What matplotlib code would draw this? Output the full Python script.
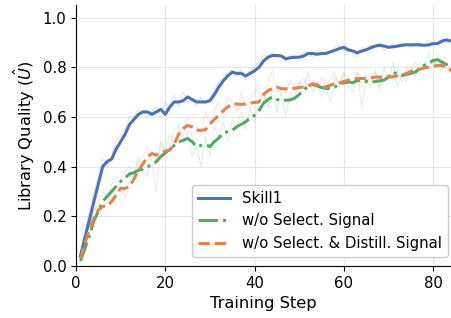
import matplotlib
matplotlib.use('Agg')
import matplotlib.pyplot as plt
import numpy as np

steps = np.arange(1, 85)

# smoothed curves
skill1 = [0.04, 0.113, 0.185, 0.258, 0.33, 0.40, 0.42, 0.43, 0.47, 0.50,
          0.53, 0.57, 0.59, 0.61, 0.62, 0.62, 0.61, 0.62, 0.63, 0.61,
          0.64, 0.66, 0.66, 0.665, 0.68, 0.67, 0.66, 0.66, 0.66, 0.665,
          0.69, 0.72, 0.745, 0.765, 0.78, 0.775, 0.775, 0.765, 0.775, 0.785,
          0.80, 0.825, 0.84, 0.847, 0.847, 0.845, 0.834, 0.838, 0.84, 0.84,
          0.845, 0.855, 0.855, 0.852, 0.855, 0.855, 0.862, 0.868, 0.875, 0.88,
          0.87, 0.865, 0.858, 0.865, 0.87, 0.878, 0.885, 0.888, 0.885, 0.88,
          0.882, 0.885, 0.888, 0.89, 0.89, 0.89, 0.89, 0.888, 0.89, 0.895,
          0.895, 0.905, 0.91, 0.905]
no_select = [0.02, 0.07, 0.12, 0.18, 0.22, 0.26, 0.28, 0.30, 0.32, 0.34,
             0.355, 0.37, 0.375, 0.385, 0.39, 0.40, 0.405, 0.42, 0.44, 0.455,
             0.47, 0.485, 0.50, 0.505, 0.513, 0.50, 0.48, 0.485, 0.488, 0.48,
             0.50, 0.515, 0.535, 0.54, 0.546, 0.56, 0.57, 0.58, 0.595, 0.606,
             0.625, 0.655, 0.67, 0.68, 0.67, 0.665, 0.667, 0.668, 0.675, 0.69,
             0.707, 0.725, 0.73, 0.725, 0.718, 0.715, 0.713, 0.72, 0.735, 0.737,
             0.74, 0.738, 0.745, 0.748, 0.743, 0.74, 0.742, 0.745, 0.748, 0.76,
             0.78, 0.772, 0.767, 0.77, 0.775, 0.78, 0.795, 0.807, 0.815, 0.827,
             0.83, 0.82, 0.81, 0.80]
no_select_distill = [0.03, 0.09, 0.145, 0.19, 0.225, 0.24, 0.24, 0.26, 0.285, 0.312,
                     0.312, 0.32, 0.35, 0.385, 0.41, 0.44, 0.452, 0.446, 0.455, 0.462,
                     0.466, 0.49, 0.53, 0.553, 0.565, 0.56, 0.546, 0.546, 0.548, 0.57,
                     0.59, 0.606, 0.625, 0.64, 0.653, 0.652, 0.65, 0.652, 0.655, 0.658,
                     0.66, 0.69, 0.705, 0.715, 0.72, 0.713, 0.713, 0.713, 0.715, 0.718,
                     0.72, 0.725, 0.733, 0.73, 0.722, 0.72, 0.728, 0.734, 0.737, 0.742,
                     0.748, 0.752, 0.754, 0.754, 0.755, 0.757, 0.76, 0.76, 0.76, 0.76,
                     0.762, 0.765, 0.767, 0.775, 0.782, 0.787, 0.792, 0.797, 0.80, 0.803,
                     0.807, 0.807, 0.80, 0.787]

# raw (unsmoothed) curves drawn faintly behind
skill1_raw = [0.05, 0.14, 0.22, 0.30, 0.36, 0.43, 0.41, 0.44, 0.50, 0.52,
              0.55, 0.60, 0.60, 0.63, 0.62, 0.60, 0.62, 0.64, 0.60, 0.66,
              0.62, 0.69, 0.64, 0.70, 0.66, 0.67, 0.64, 0.68, 0.65, 0.67,
              0.71, 0.74, 0.76, 0.78, 0.79, 0.76, 0.79, 0.75, 0.79, 0.80,
              0.82, 0.85, 0.84, 0.86, 0.84, 0.85, 0.82, 0.85, 0.83, 0.84,
              0.86, 0.86, 0.84, 0.86, 0.85, 0.87, 0.86, 0.88, 0.89, 0.87,
              0.86, 0.87, 0.84, 0.88, 0.87, 0.89, 0.88, 0.90, 0.87, 0.88,
              0.89, 0.88, 0.90, 0.89, 0.88, 0.90, 0.88, 0.89, 0.91, 0.89,
              0.90, 0.92, 0.90, 0.91]
no_select_raw = [0.00, 0.10, 0.16, 0.22, 0.25, 0.30, 0.27, 0.33, 0.36, 0.35,
                 0.38, 0.40, 0.36, 0.44, 0.38, 0.36, 0.47, 0.42, 0.50, 0.46,
                 0.53, 0.48, 0.56, 0.50, 0.54, 0.44, 0.48, 0.40, 0.52, 0.44,
                 0.56, 0.52, 0.58, 0.50, 0.59, 0.56, 0.62, 0.55, 0.64, 0.58,
                 0.66, 0.70, 0.64, 0.72, 0.62, 0.70, 0.60, 0.70, 0.67, 0.74,
                 0.72, 0.78, 0.70, 0.74, 0.68, 0.72, 0.66, 0.76, 0.73, 0.78,
                 0.72, 0.70, 0.78, 0.64, 0.76, 0.72, 0.78, 0.70, 0.80, 0.74,
                 0.82, 0.72, 0.78, 0.74, 0.80, 0.76, 0.82, 0.80, 0.86, 0.80,
                 0.85, 0.79, 0.82, 0.78]
no_select_distill_raw = [0.02, 0.12, 0.17, 0.22, 0.24, 0.22, 0.26, 0.28, 0.30, 0.33,
                         0.27, 0.35, 0.38, 0.42, 0.44, 0.48, 0.42, 0.30, 0.50, 0.44,
                         0.48, 0.55, 0.57, 0.52, 0.60, 0.52, 0.56, 0.53, 0.62, 0.58,
                         0.63, 0.66, 0.60, 0.68, 0.66, 0.62, 0.70, 0.64, 0.67, 0.70,
                         0.72, 0.66, 0.74, 0.79, 0.70, 0.72, 0.69, 0.75, 0.70, 0.73,
                         0.76, 0.70, 0.74, 0.71, 0.76, 0.72, 0.75, 0.78, 0.72, 0.77,
                         0.76, 0.73, 0.78, 0.72, 0.77, 0.74, 0.79, 0.72, 0.76, 0.78,
                         0.75, 0.79, 0.74, 0.80, 0.78, 0.82, 0.77, 0.82, 0.79, 0.83,
                         0.80, 0.81, 0.79, 0.78]

labels = ['Skill1', 'w/o Select. Signal', 'w/o Select. & Distill. Signal']
colors = ['#4C72B0', '#55A868', '#DD8452']
styles = ['-', '-.', '--']

fig = plt.figure(figsize=(4.51, 3.18), dpi=100)
ax = fig.add_axes([0.1685, 0.164, 0.8315, 0.82])

series = [(skill1_raw, skill1), (no_select_raw, no_select), (no_select_distill_raw, no_select_distill)]
# faint raw lines first, then the smoothed ones on top
for (raw, smooth), color in zip(series, colors):
    ax.plot(steps, raw, color=color, linewidth=0.8, alpha=0.18)
for (raw, smooth), label, color, ls in zip(series, labels, colors, styles):
    ax.plot(steps, smooth, color=color, linestyle=ls, linewidth=2.2, label=label)

ax.set_xlim(0, 84)
ax.set_ylim(0, 1.05)
ax.set_xticks([0, 20, 40, 60, 80])
ax.set_yticks([0.0, 0.2, 0.4, 0.6, 0.8, 1.0])
ax.tick_params(labelsize=10.7)
ax.set_xlabel('Training Step', fontsize=11.7)
ax.set_ylabel(r'Library Quality ($\hat{U}$)', fontsize=11.7)
ax.grid(True, color='#e6e6e6', linewidth=0.8)
ax.set_axisbelow(True)
ax.spines['top'].set_visible(False)
ax.spines['right'].set_visible(False)
ax.legend(loc='lower right', bbox_to_anchor=(0.992, 0.0345), borderaxespad=0,
          fontsize=10.7, framealpha=1.0, handlelength=2.2)

fig.savefig('out.png', dpi=100)
